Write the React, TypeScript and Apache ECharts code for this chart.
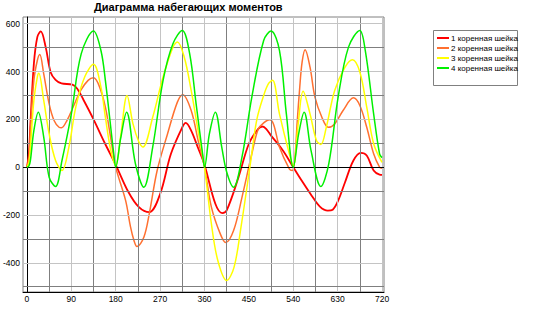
import React, { useEffect, useRef } from 'react';
import * as echarts from 'echarts';

const titleText = 'Диаграмма набегающих моментов';
const seriesNames = ['1 коренная шейка', '2 коренная шейка', '3 коренная шейка', '4 коренная шейка'];
const seriesColors = ['#ff0000', '#ff7030', '#ffff00', '#00f000'];

const xLabels = [0, 90, 180, 270, 360, 450, 540, 630, 720];
const yLabels = [-400, -200, 0, 200, 400, 600];
const xMajorGrid = [90, 180, 270, 360, 450, 540, 630, 720];
const xMinorGrid = [45, 135, 225, 315, 405, 495, 585, 675];
const yMajorGrid = [-400, -200, 200, 400, 600];
const yMinorGrid = [-500, -300, -100, 100, 300, 500];

const angles1 = [0, 4, 7, 14, 21, 28, 38, 48, 58, 70, 92, 102, 115, 135, 158, 180, 206, 227, 248, 270, 292, 315, 322, 333, 347, 360, 382, 396, 405, 429, 450, 469, 478, 485, 495, 519, 540, 557, 577, 594, 610, 620, 631, 645, 662, 677, 689, 703, 715, 720];
const values1 = [0, 60, 181, 432, 544, 568, 502, 397, 365, 350, 345, 328, 280, 200, 100, 10, -105, -167, -188, -112, 56, 167, 185, 153, 80, 10, -153, -192, -181, -42, 98, 160, 170, 160, 132, 70, 0, -56, -118, -165, -182, -178, -140, -63, 28, 60, 49, -14, -31, -32];

const angles2 = [0, 4, 7, 14, 21, 26, 34, 45, 55, 65, 70, 81, 95, 109, 124, 135, 146, 159, 170, 180, 200, 210, 217, 223, 237, 248, 264, 285, 305, 316, 333, 347, 360, 374, 392, 403, 419, 436, 456, 469, 480, 492, 500, 512, 532, 538, 543, 548, 553, 558, 564, 574, 584, 598, 611, 624, 641, 662, 675, 689, 703, 715, 720];
const values2 = [0, 40, 153, 363, 446, 471, 390, 265, 195, 167, 165, 195, 258, 321, 363, 374, 342, 251, 120, 0, -139, -250, -307, -332, -293, -195, -14, 139, 272, 303, 237, 112, 0, -167, -279, -315, -265, -126, 56, 160, 185, 198, 180, 84, -7, -14, 30, 190, 330, 440, 491, 418, 293, 209, 167, 181, 237, 290, 258, 167, 56, 0, -5];

const angles3 = [0, 4, 7, 14, 21, 24, 34, 45, 58, 71, 85, 99, 117, 135, 150, 159, 170, 180, 190, 203, 215, 227, 235, 255, 276, 296, 305, 319, 333, 347, 360, 374, 387, 405, 420, 434, 454, 466, 480, 490, 498, 512, 532, 540, 550, 560, 574, 587, 596, 607, 624, 645, 660, 675, 689, 703, 720];
const values3 = [0, 20, 84, 279, 377, 393, 279, 139, 28, -14, 84, 251, 377, 430, 335, 209, 70, 7, 130, 300, 181, 105, 84, 209, 377, 502, 523, 460, 321, 153, 0, -237, -390, -474, -418, -251, 28, 198, 300, 350, 363, 223, 56, 7, 181, 318, 223, 112, 95, 167, 321, 418, 449, 398, 251, 98, 20];

const angles4 = [0, 4, 7, 14, 23, 34, 45, 58, 71, 90, 110, 135, 150, 159, 176, 180, 190, 202, 220, 237, 255, 276, 296, 315, 330, 343, 357, 360, 370, 382, 395, 405, 419, 436, 456, 480, 495, 512, 526, 540, 551, 562, 576, 596, 612, 631, 652, 675, 686, 703, 715, 720];
const values4 = [0, 5, 28, 153, 230, 126, -42, -81, 28, 223, 474, 569, 488, 363, 56, 0, 120, 230, 14, -84, 84, 363, 516, 572, 474, 265, 42, 0, 140, 230, 84, -20, -84, 42, 293, 530, 569, 488, 223, 0, 140, 230, 70, -81, 14, 293, 502, 572, 488, 223, 56, 40];

const allAngles = [angles1, angles2, angles3, angles4];
const allValues = [values1, values2, values3, values4];

const FONT = 'Liberation Sans, Arial, sans-serif';

export default function App() {
  const ref = useRef<HTMLDivElement>(null);
  useEffect(() => {
    if (!ref.current) return;
    const chart = echarts.init(ref.current, null, { renderer: 'svg' });
    const gridLine = (color: string) => ({ color, width: 1, type: 'solid' as const });
    const markData: any[] = [];
    xMinorGrid.forEach((v) => markData.push({ xAxis: v, lineStyle: gridLine('#7f7f7f') }));
    xMajorGrid.forEach((v) => markData.push({ xAxis: v, lineStyle: gridLine('#c4c4c4') }));
    yMinorGrid.forEach((v) => markData.push({ yAxis: v, lineStyle: gridLine('#7f7f7f') }));
    yMajorGrid.forEach((v) => markData.push({ yAxis: v, lineStyle: gridLine('#c4c4c4') }));
    markData.push({ yAxis: 0, lineStyle: gridLine('#000000') });

    const dataSeries = seriesNames.map((name, i) => ({
      name,
      type: 'line',
      data: allAngles[i].map((a, j) => [a, allValues[i][j]]),
      smooth: 0.35,
      showSymbol: false,
      symbol: 'none',
      lineStyle: { color: seriesColors[i], width: i === 0 ? 1.8 : 1.5 },
      itemStyle: { color: seriesColors[i] },
      z: 3 + i,
    }));

    chart.setOption({
      animation: false,
      backgroundColor: '#ffffff',
      title: {
        text: titleText,
        left: 94,
        top: 1,
        padding: 0,
        textStyle: { fontFamily: FONT, fontSize: 11, fontWeight: 'bold', color: '#000000' },
      },
      legend: {
        orient: 'vertical',
        left: 437,
        top: 33,
        padding: 0,
        itemWidth: 12,
        itemHeight: 2,
        itemGap: 0,
        icon: 'rect',
        data: seriesNames,
        textStyle: { fontFamily: FONT, fontSize: 8, color: '#000000', lineHeight: 10, padding: [0, 0, 0, -3] },
      },
      graphic: [
        {
          type: 'rect',
          shape: { x: 433.5, y: 30.5, width: 84, height: 55 },
          style: { fill: 'none', stroke: '#808080', lineWidth: 1 },
          z: -1,
        },
      ],
      grid: {
        left: 22,
        top: 17,
        width: 362,
        height: 275,
        show: true,
        borderColor: '#808080',
        borderWidth: 1,
        backgroundColor: 'transparent',
      },
      xAxis: {
        type: 'value',
        min: -8,
        max: 724,
        axisLine: { show: true, onZero: false, lineStyle: { color: '#000000', width: 1 } },
        axisTick: { show: false },
        splitLine: { show: false },
        axisLabel: {
          customValues: xLabels,
          margin: 2,
          fontFamily: FONT,
          fontSize: 8.5,
          color: '#000000',
          showMinLabel: true,
          showMaxLabel: true,
        },
      },
      yAxis: {
        type: 'value',
        min: -522,
        max: 628,
        axisLine: { show: true, onZero: true, lineStyle: { color: '#000000', width: 1 } },
        axisTick: { show: false },
        splitLine: { show: false },
        axisLabel: {
          customValues: yLabels,
          margin: 3,
          fontFamily: FONT,
          fontSize: 8.5,
          color: '#000000',
        },
      },
      series: [
        {
          name: '__grid',
          type: 'line',
          data: [],
          silent: true,
          z: 1,
          markLine: {
            silent: true,
            symbol: ['none', 'none'],
            label: { show: false },
            animation: false,
            data: markData,
          },
        },
        ...dataSeries,
      ],
    } as any);
    return () => chart.dispose();
  }, []);
  return <div ref={ref} style={{ position: 'fixed', left: 0, top: 0, width: 533, height: 320 }} />;
}
